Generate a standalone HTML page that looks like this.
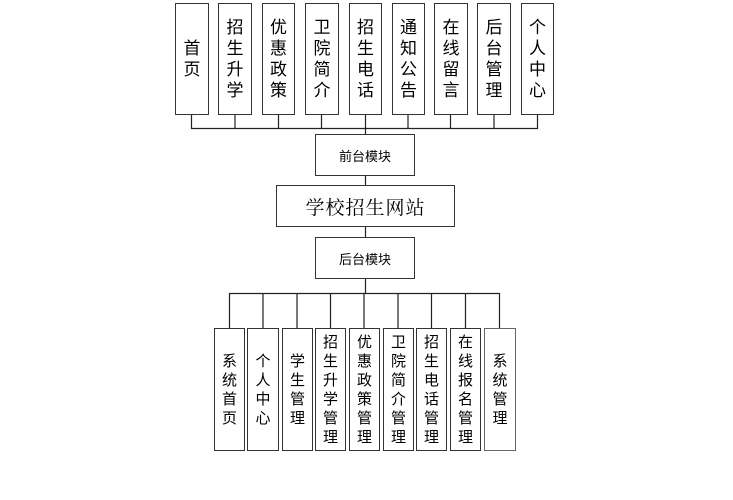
<!DOCTYPE html>
<html><head><meta charset="utf-8"><style>
body{margin:0;width:733px;height:500px;background:#fff;position:relative;overflow:hidden;font-family:"Liberation Sans","Noto Sans CJK SC",sans-serif;color:#000}
.b{position:absolute;border:1.3px solid #333;box-sizing:border-box;background:#fff;display:flex;align-items:center;justify-content:center;text-align:center}
.t{font-size:17px;line-height:21px;width:1em}
.s{font-size:15px;line-height:19px;width:1em}
svg{position:absolute;left:0;top:0}
</style></head><body>
<svg width="733" height="500"><g stroke="#222" stroke-width="1.2" fill="none">
<path d="M191.5 114V128.5H537.5V114 M235 114V128 M278.5 114V128 M321.5 114V128 M365.5 114V134 M408 114V128 M450.5 114V128 M494 114V128"/>
<path d="M365.5 175V185 M365.5 227V237 M365.5 278V293"/>
<path d="M229.5 293.5H499.5 M229.5 293V328 M263 293V328 M297 293V328 M330.5 293V328 M364 293V328 M398 293V328 M431.5 293V328 M465.5 293V328 M499.5 293V328"/>
</g></svg>
<div class="b" style="left:175px;top:3px;width:34px;height:112px"><span class="t">首页</span></div>
<div class="b" style="left:218px;top:3px;width:34px;height:112px"><span class="t">招生升学</span></div>
<div class="b" style="left:262px;top:3px;width:33px;height:112px"><span class="t">优惠政策</span></div>
<div class="b" style="left:305px;top:3px;width:34px;height:112px"><span class="t">卫院简介</span></div>
<div class="b" style="left:349px;top:3px;width:33px;height:112px"><span class="t">招生电话</span></div>
<div class="b" style="left:392px;top:3px;width:33px;height:112px"><span class="t">通知公告</span></div>
<div class="b" style="left:434px;top:3px;width:34px;height:112px"><span class="t">在线留言</span></div>
<div class="b" style="left:477px;top:3px;width:34px;height:112px"><span class="t">后台管理</span></div>
<div class="b" style="left:521px;top:3px;width:33px;height:112px"><span class="t">个人中心</span></div>
<div class="b" style="left:315px;top:134px;width:100px;height:42px;font-size:13px">前台模块</div>
<div class="b" style="left:276px;top:185px;width:179px;height:42px;font-family:'Noto Serif CJK SC',serif;font-size:19px;letter-spacing:1px">学校招生网站</div>
<div class="b" style="left:315px;top:237px;width:100px;height:42px;font-size:13px">后台模块</div>
<div class="b" style="left:214px;top:328px;width:31px;height:123px"><span class="s">系统首页</span></div>
<div class="b" style="left:247px;top:328px;width:32px;height:123px"><span class="s">个人中心</span></div>
<div class="b" style="left:282px;top:328px;width:31px;height:123px"><span class="s">学生管理</span></div>
<div class="b" style="left:315px;top:328px;width:31px;height:123px"><span class="s">招生升学管理</span></div>
<div class="b" style="left:349px;top:328px;width:31px;height:123px"><span class="s">优惠政策管理</span></div>
<div class="b" style="left:383px;top:328px;width:31px;height:123px"><span class="s">卫院简介管理</span></div>
<div class="b" style="left:416px;top:328px;width:31px;height:123px"><span class="s">招生电话管理</span></div>
<div class="b" style="left:450px;top:328px;width:31px;height:123px"><span class="s">在线报名管理</span></div>
<div class="b" style="left:484px;top:328px;width:32px;height:123px;border-color:#666"><span class="s">系统管理</span></div>
</body></html>
